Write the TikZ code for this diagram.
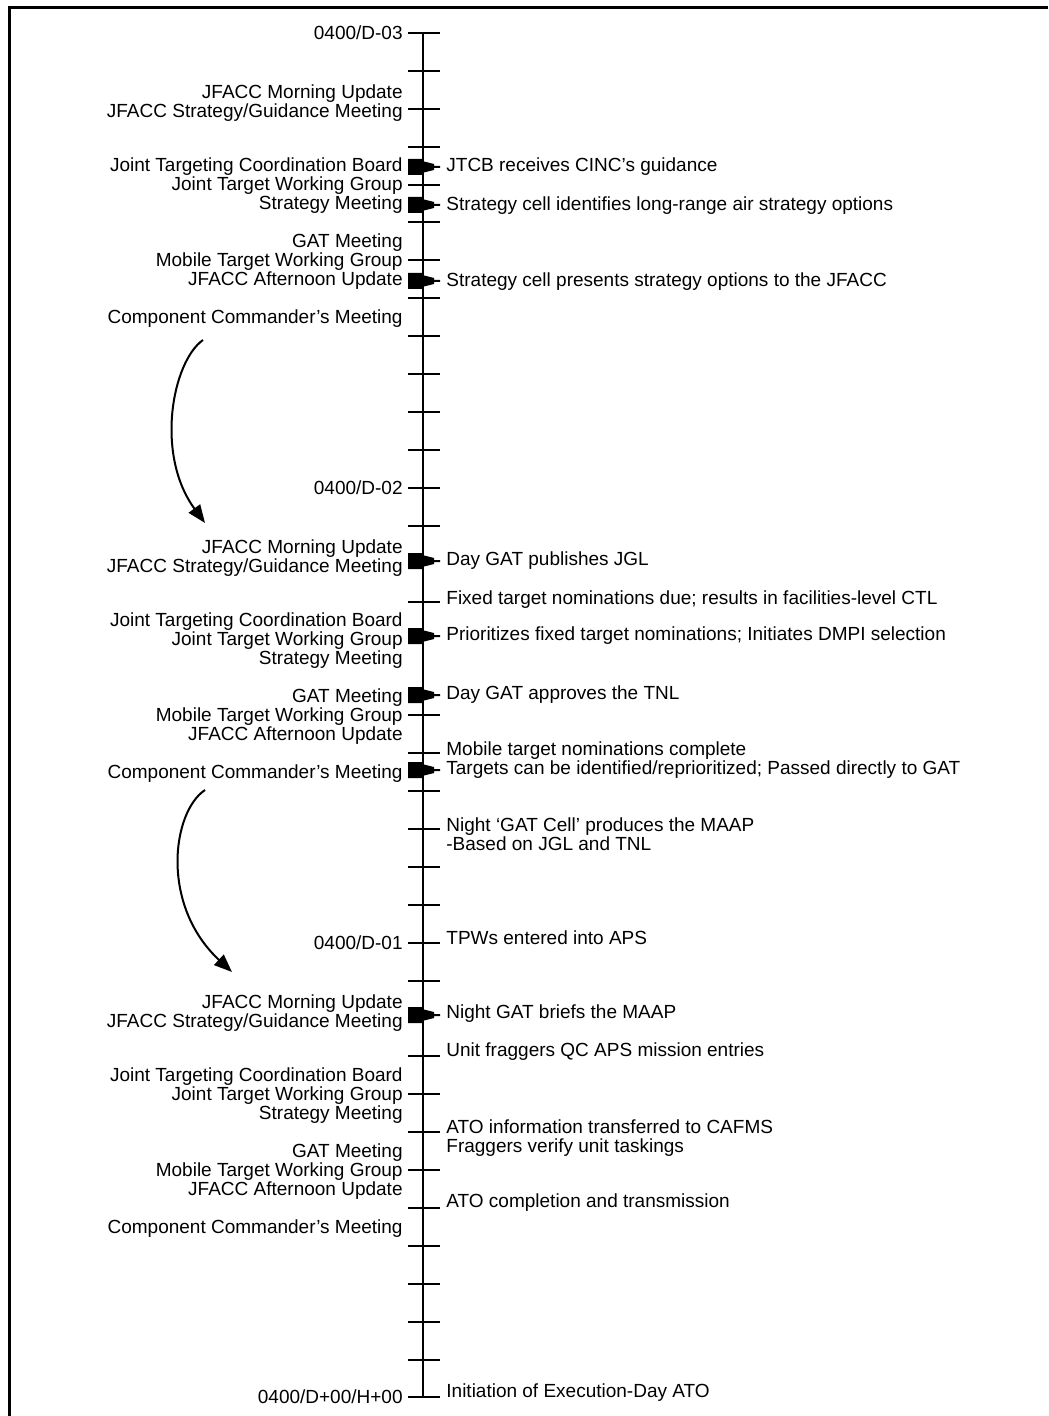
\documentclass[tikz,border=0pt]{standalone}
\usepackage{fontspec}
\setmainfont{Liberation Sans}
\usetikzlibrary{arrows.meta}
\tikzset{
  lefttext/.style={anchor=east,inner sep=0pt,align=right,font=\fontsize{9.5}{9.5}\selectfont},
  righttext/.style={anchor=west,inner sep=0pt,align=left,font=\fontsize{9.5}{9.5}\selectfont},
  tickline/.style={line width=1pt},
  flagmark/.style={fill=black},
  bendarrow/.style={line width=1pt,-{Triangle[length=9pt,width=7pt]}}
}
\begin{document}
\begin{tikzpicture}[x=0.5pt,y=-0.5pt]
\useasboundingbox (0,0) rectangle (1048,1416);
\draw[line width=1.5pt] (9,1416) -- (9,8) -- (1048,8);
\draw[line width=1pt] (423,33) -- (423,1397);
\foreach \k in {0,1,...,13,15,18,19,...,25,27,28,...,36}
  \draw[tickline] (408,33+37.9*\k) -- (440,33+37.9*\k);
\foreach \y in {167,205,281,561,636,695,770,1015}
  \fill[flagmark] (408,\y-8) -- (422,\y-8) -- (422,\y-6) -- (434,\y-3) -- (434,\y-1) -- (440,\y-1)
    -- (440,\y+1) -- (434,\y+1) -- (434,\y+3) -- (422,\y+6) -- (422,\y+8) -- (408,\y+8) -- cycle;
\node[lefttext] (d03) at (403,33) {0400/D-03};
\node[lefttext] (d02) at (403,488) {0400/D-02};
\node[lefttext] (d01) at (403,943) {0400/D-01};
\node[lefttext] (d00) at (403,1397) {0400/D+00/H+00};
\foreach \d in {0,1,2} {
  \node[lefttext] (mu\d) at (403,103+454.8*\d) {JFACC Morning Update\\JFACC Strategy/Guidance Meeting};
  \node[lefttext] (jt\d) at (403,186+454.8*\d) {Joint Targeting Coordination Board\\Joint Target Working Group\\Strategy Meeting};
  \node[lefttext] (gm\d) at (403,262+454.8*\d) {GAT Meeting\\Mobile Target Working Group\\JFACC Afternoon Update};
  \node[lefttext] (cc\d) at (403,319+454.8*\d) {Component Commander's Meeting};
}
\node[righttext] (n1) at (446,167) {JTCB receives CINC's guidance};
\node[righttext] (n2) at (446,206) {Strategy cell identifies long-range air strategy options};
\node[righttext] (n3) at (446,282) {Strategy cell presents strategy options to the JFACC};
\node[righttext] (n4) at (446,561) {Day GAT publishes JGL};
\node[righttext] (n5) at (446,600) {Fixed target nominations due; results in facilities-level CTL};
\node[righttext] (n6) at (446,636) {Prioritizes fixed target nominations; Initiates DMPI selection};
\node[righttext] (n7) at (446,695) {Day GAT approves the TNL};
\node[righttext] (n8) at (446,760) {Mobile target nominations complete\\Targets can be identified/reprioritized; Passed directly to GAT};
\node[righttext] (n9) at (446,834) {Night ‘GAT Cell’ produces the MAAP\\-Based on JGL and TNL};
\node[righttext] (n10) at (446,938) {TPWs entered into APS};
\node[righttext] (n11) at (446,1014) {Night GAT briefs the MAAP};
\node[righttext] (n12) at (446,1052) {Unit fraggers QC APS mission entries};
\node[righttext] (n13) at (446,1138) {ATO information transferred to CAFMS\\Fraggers verify unit taskings};
\node[righttext] (n14) at (446,1203) {ATO completion and transmission};
\node[righttext] (n15) at (446,1393) {Initiation of Execution-Day ATO};
\coordinate (a1s) at (203,340);
\coordinate (a1e) at (205,523);
\draw[bendarrow] (a1s) .. controls (172,362) and (155,455) .. (a1e);
\coordinate (a2s) at (205,790);
\coordinate (a2e) at (232,972);
\draw[bendarrow] (a2s) .. controls (172,812) and (160,905) .. (a2e);
\end{tikzpicture}
\end{document}
